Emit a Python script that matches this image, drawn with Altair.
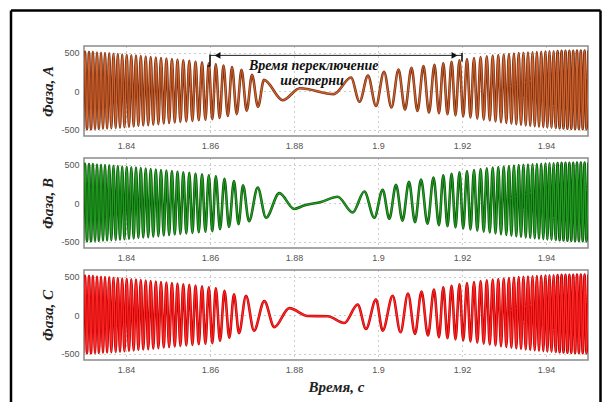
import altair as alt
import pandas as pd

# ---- extrema of the phase voltages: time [s], voltage [V] ----
# Fast wings before and after the gear change (same in all three phases)
left_t = [1.82976, 1.83024, 1.83071, 1.83119, 1.83167, 1.83214, 1.83262, 1.83310,
          1.83357, 1.83405, 1.83452, 1.83500, 1.83550, 1.83600, 1.83651, 1.83702,
          1.83754, 1.83805, 1.83857, 1.83910, 1.83963, 1.84017, 1.84071, 1.84126,
          1.84182, 1.84238, 1.84295, 1.84352, 1.84411, 1.84469, 1.84529, 1.84588,
          1.84649, 1.84710, 1.84771, 1.84833, 1.84898, 1.84962, 1.85027, 1.85093,
          1.85160, 1.85226, 1.85295, 1.85364, 1.85436, 1.85507, 1.85581, 1.85655,
          1.85732, 1.85810, 1.85890, 1.85971, 1.86055, 1.86138]
left_v = [-495, 515, -494, 512, -492, 510, -490, 506, -488, 502, -485, 498, -482, 494,
          -479, 490, -475, 485, -471, 480, -466, 475, -461, 470, -456, 465, -450, 459,
          -444, 453, -438, 447, -432, 441, -425, 434, -418, 427, -411, 420, -404, 413,
          -397, 405, -390, 396, -383, 387, -376, 377, -369, 366, -363, 352]

right_t = [1.91452, 1.91555, 1.91655, 1.91752, 1.91845, 1.91940, 1.92029, 1.92119,
           1.92202, 1.92286, 1.92364, 1.92443, 1.92517, 1.92590, 1.92660, 1.92731,
           1.92798, 1.92864, 1.92929, 1.92993, 1.93055, 1.93117, 1.93176, 1.93236,
           1.93293, 1.93350, 1.93405, 1.93462, 1.93517, 1.93571, 1.93624, 1.93679,
           1.93731, 1.93783, 1.93833, 1.93886, 1.93936, 1.93986, 1.94033, 1.94083,
           1.94131, 1.94181, 1.94229, 1.94276, 1.94324, 1.94371, 1.94417, 1.94464,
           1.94510, 1.94557, 1.94602, 1.94648, 1.94693, 1.94738, 1.94783, 1.94829,
           1.94874, 1.94919, 1.94964, 1.95010]
right_v = [-285, 365, -298, 385, -312, 405, -325, 420, -340, 433, -354, 445, -367, 456,
           -379, 465, -390, 473, -400, 480, -410, 486, -419, 492, -427, 497, -435, 501,
           -442, 505, -448, 509, -454, 512, -459, 515, -464, 518, -468, 520, -472, 522,
           -476, 524, -479, 526, -482, 527, -485, 528, -487, 529, -489, 530, -491, 530,
           -492, 531, -494, 531]

# Slow part around the gear change, per phase
mid_a_t = [1.86229, 1.86321, 1.86424, 1.86524, 1.86636, 1.86750, 1.86874, 1.87000,
           1.87143, 1.87286, 1.87731, 1.88143, 1.88952, 1.89357, 1.89560, 1.89762,
           1.89952, 1.90143, 1.90321, 1.90488, 1.90643, 1.90798, 1.90940, 1.91083,
           1.91214, 1.91345]
mid_a_v = [-345, 335, -320, 315, -295, 280, -250, 215, -200, 150, -115, 40, -35, 180,
           -135, 205, -190, 255, -210, 285, -235, 305, -255, 330, -275, 345]

mid_b_t = [1.86238, 1.86345, 1.86452, 1.86571, 1.86679, 1.86786, 1.86929, 1.87136,
           1.87333, 1.87650, 1.88007, 1.88238, 1.88643, 1.89040, 1.89398, 1.89674,
           1.89912, 1.90112, 1.90269, 1.90429, 1.90583, 1.90738, 1.90881, 1.91024,
           1.91179, 1.91321]
mid_b_v = [-335, 320, -305, 290, -270, 235, -233, 205, -187, 133, -73, -27, 18, 87,
           -119, 155, -187, 178, -200, 240, -225, 280, -245, 310, -265, 335]

mid_c_t = [1.86238, 1.86345, 1.86460, 1.86571, 1.86690, 1.86857, 1.87048, 1.87293,
           1.87531, 1.87888, 1.88326, 1.88802, 1.89198, 1.89517, 1.89714, 1.89952,
           1.90112, 1.90350, 1.90536, 1.90714, 1.90881, 1.91036, 1.91190, 1.91333]
mid_c_v = [-330, 320, -290, 275, -230, 255, -198, 185, -153, 95, -8, -12, -99, 140,
           -176, 207, -198, 253, -220, 285, -240, 310, -262, 335]

x_ticks = [1.84, 1.86, 1.88, 1.9, 1.92, 1.94]
y_ticks = [-500, 0, 500]
phase_names = ["Фаза, A", "Фаза, B", "Фаза, C"]
core_colors = ["#cf6530", "#23a023", "#ff2b2b"]
edge_colors = ["#7e3010", "#0c5c0c", "#c80000"]

# Gear-change span marker on phase A
span_t = [1.86, 1.92]
span_level = 468
span_tick_top = [480, 500]
span_tick_bottom = [330, 390]
note_lines = ["Время переключение", "шестерни"]
note_t = [1.8847, 1.8843]
note_v = [330, 135]

x_scale = alt.Scale(domain=[1.83, 1.95], nice=False, zero=False)
y_scale = alt.Scale(domain=[-580, 590], nice=False, zero=False)

PANEL_W, PANEL_H = 504, 90


def wave_frame(mid_t, mid_v):
    return pd.DataFrame({"t": left_t + mid_t + right_t,
                         "v": left_v + mid_v + right_v})


def x_axis(with_title):
    opts = dict(values=x_ticks, labelExpr="'' + datum.value", ticks=False,
                domain=False, grid=True, gridDash=[1, 4], gridColor="#9a9a9a",
                labelFont="Liberation Sans", labelFontSize=9, labelColor="#555",
                labelPadding=5)
    if with_title:
        opts.update(title="Время, с", titleFont="Liberation Serif",
                    titleFontStyle="italic", titleFontWeight="bold",
                    titleFontSize=15, titleColor="#222", titleX=252, titleY=26,
                    titleBaseline="middle", titleAlign="center")
    else:
        opts.update(title=None)
    return alt.Axis(**opts)


def y_axis(name):
    return alt.Axis(values=y_ticks, labelExpr="'' + datum.value", ticks=False,
                    domain=False, grid=True, gridDash=[1, 4], gridColor="#9a9a9a",
                    labelFont="Liberation Sans", labelFontSize=9, labelColor="#555",
                    labelPadding=5, title=name, titleFont="Liberation Serif",
                    titleFontStyle="italic", titleFontWeight="bold",
                    titleFontSize=15, titleColor="#222", titleX=-37,
                    titleY=PANEL_H / 2, titleAlign="center", titleBaseline="middle")


def panel(df, i, with_title):
    base = alt.Chart(df)
    x = alt.X("t:Q", scale=x_scale, axis=x_axis(with_title))
    y = alt.Y("v:Q", scale=y_scale, axis=y_axis(phase_names[i]))
    outline = base.mark_line(interpolate="monotone", clip=True,
                             color=edge_colors[i], strokeWidth=2.6).encode(x=x, y=y)
    core = base.mark_line(interpolate="monotone", clip=True,
                          color=core_colors[i], strokeWidth=1.2).encode(
        x=alt.X("t:Q", scale=x_scale), y=alt.Y("v:Q", scale=y_scale))
    return [outline, core]


a_layers = panel(wave_frame(mid_a_t, mid_a_v), 0, False)
b_layers = panel(wave_frame(mid_b_t, mid_b_v), 1, False)
c_layers = panel(wave_frame(mid_c_t, mid_c_v), 2, True)

# span arrow with end ticks and caption
xs = alt.X("t:Q", scale=x_scale)
shaft = alt.Chart(pd.DataFrame({"t": [span_t[0]], "t2": [span_t[1]],
                                "v": [span_level]})).mark_rule(
    color="#222", strokeWidth=1).encode(x=xs, x2="t2:Q",
                                        y=alt.Y("v:Q", scale=y_scale))
end_ticks = alt.Chart(pd.DataFrame({"t": span_t, "top": span_tick_top,
                                    "bottom": span_tick_bottom})).mark_rule(
    color="#111", strokeWidth=1.6).encode(x=xs, y=alt.Y("top:Q", scale=y_scale),
                                          y2="bottom:Q")
foot = alt.Chart(pd.DataFrame({"t": [span_t[0] - 0.0006], "t2": [span_t[0]],
                               "v": [span_tick_bottom[0]]})).mark_rule(
    color="#111", strokeWidth=1.6).encode(x=xs, x2="t2:Q",
                                          y=alt.Y("v:Q", scale=y_scale))
heads = alt.Chart(pd.DataFrame({"t": [span_t[0] + 0.0018, span_t[1] - 0.0018],
                                "v": [span_level, span_level],
                                "s": ["triangle-left", "triangle-right"]})).mark_point(
    filled=True, color="#111", size=45, opacity=1).encode(
    x=xs, y=alt.Y("v:Q", scale=y_scale),
    shape=alt.Shape("s:N", scale=None, legend=None))
caption = alt.Chart(pd.DataFrame({"t": note_t, "v": note_v,
                                  "label": note_lines})).mark_text(
    font="Liberation Serif", fontStyle="italic", fontWeight="bold", fontSize=14,
    color="#111", align="center", baseline="middle").encode(
    x=xs, y=alt.Y("v:Q", scale=y_scale), text="label:N")

# outer black frame (left, top, right sides)
dummy = pd.DataFrame({"k": [0]})
frame_left = alt.Chart(dummy).mark_rule(color="black", strokeWidth=2.5).encode(
    x=alt.value(-73), y=alt.value(-35.5), y2=alt.value(356))
frame_top = alt.Chart(dummy).mark_rule(color="black", strokeWidth=2.5).encode(
    x=alt.value(-73), x2=alt.value(516.5), y=alt.value(-35.5))
frame_right = alt.Chart(dummy).mark_rule(color="black", strokeWidth=2.5).encode(
    x=alt.value(516.5), y=alt.value(-35.5), y2=alt.value(356))

panel_a = alt.layer(*a_layers, shaft, end_ticks, foot, heads, caption,
                    frame_left, frame_top, frame_right).properties(
    width=PANEL_W, height=PANEL_H)
panel_b = alt.layer(*b_layers).properties(width=PANEL_W, height=PANEL_H)
panel_c = alt.layer(*c_layers).properties(width=PANEL_W, height=PANEL_H)

chart = alt.vconcat(panel_a, panel_b, panel_c, spacing=22, bounds="flush").properties(
    padding={"left": 9, "top": 8, "right": 0, "bottom": 0},
    background="white",
).configure_view(stroke="#8a8a8a", strokeWidth=1.5)

chart.save("out.html", embed_options={"renderer": "svg", "actions": False})
